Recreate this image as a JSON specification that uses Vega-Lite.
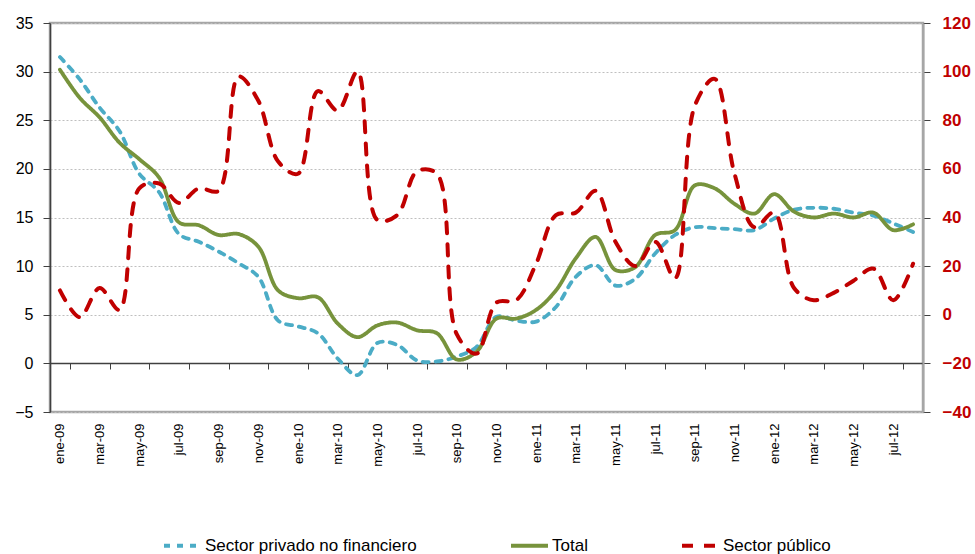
{
  "$schema": "https://vega.github.io/schema/vega-lite/v6.json",
  "width": 873,
  "height": 389,
  "autosize": {"type": "none"},
  "padding": {"left": 50, "top": 23, "right": 52, "bottom": 142},
  "background": "white",
  "config": {
    "view": {"stroke": "#A6A6A6", "strokeWidth": 2.5},
    "font": "Liberation Sans"
  },
  "data": {
    "values": [
      {"mes":"ene-09","serie":"Sector privado no financiero","valor":31.5},{"mes":"ene-09","serie":"Total","valor":30.2},{"mes":"ene-09","serie":"Sector público","valor":10},
      {"mes":"feb-09","serie":"Sector privado no financiero","valor":29.2},{"mes":"feb-09","serie":"Total","valor":27.3},{"mes":"feb-09","serie":"Sector público","valor":-1},
      {"mes":"mar-09","serie":"Sector privado no financiero","valor":26.3},{"mes":"mar-09","serie":"Total","valor":25.3},{"mes":"mar-09","serie":"Sector público","valor":11},
      {"mes":"abr-09","serie":"Sector privado no financiero","valor":23.9},{"mes":"abr-09","serie":"Total","valor":22.7},{"mes":"abr-09","serie":"Sector público","valor":2},
      {"mes":"may-09","serie":"Sector privado no financiero","valor":19.5},{"mes":"may-09","serie":"Total","valor":21.0},{"mes":"may-09","serie":"Sector público","valor":52},
      {"mes":"jun-09","serie":"Sector privado no financiero","valor":17.6},{"mes":"jun-09","serie":"Total","valor":19.1},{"mes":"jun-09","serie":"Sector público","valor":54},
      {"mes":"jul-09","serie":"Sector privado no financiero","valor":13.3},{"mes":"jul-09","serie":"Total","valor":14.5},{"mes":"jul-09","serie":"Sector público","valor":46},
      {"mes":"ago-09","serie":"Sector privado no financiero","valor":12.5},{"mes":"ago-09","serie":"Total","valor":14.2},{"mes":"ago-09","serie":"Sector público","valor":52},
      {"mes":"sep-09","serie":"Sector privado no financiero","valor":11.5},{"mes":"sep-09","serie":"Total","valor":13.2},{"mes":"sep-09","serie":"Sector público","valor":51},
      {"mes":"oct-09","serie":"Sector privado no financiero","valor":10.3},{"mes":"oct-09","serie":"Total","valor":13.3},{"mes":"oct-09","serie":"Sector público","valor":98},
      {"mes":"nov-09","serie":"Sector privado no financiero","valor":8.9},{"mes":"nov-09","serie":"Total","valor":12.0},{"mes":"nov-09","serie":"Sector público","valor":88},
      {"mes":"dic-09","serie":"Sector privado no financiero","valor":4.4},{"mes":"dic-09","serie":"Total","valor":7.5},{"mes":"dic-09","serie":"Sector público","valor":63},
      {"mes":"ene-10","serie":"Sector privado no financiero","valor":3.8},{"mes":"ene-10","serie":"Total","valor":6.7},{"mes":"ene-10","serie":"Sector público","valor":58},
      {"mes":"feb-10","serie":"Sector privado no financiero","valor":3.1},{"mes":"feb-10","serie":"Total","valor":6.8},{"mes":"feb-10","serie":"Sector público","valor":92},
      {"mes":"mar-10","serie":"Sector privado no financiero","valor":0.5},{"mes":"mar-10","serie":"Total","valor":4.1},{"mes":"mar-10","serie":"Sector público","valor":84},
      {"mes":"abr-10","serie":"Sector privado no financiero","valor":-1.2},{"mes":"abr-10","serie":"Total","valor":2.7},{"mes":"abr-10","serie":"Sector público","valor":100},
      {"mes":"may-10","serie":"Sector privado no financiero","valor":2.1},{"mes":"may-10","serie":"Total","valor":3.9},{"mes":"may-10","serie":"Sector público","valor":39},
      {"mes":"jun-10","serie":"Sector privado no financiero","valor":1.9},{"mes":"jun-10","serie":"Total","valor":4.2},{"mes":"jun-10","serie":"Sector público","valor":41},
      {"mes":"jul-10","serie":"Sector privado no financiero","valor":0.3},{"mes":"jul-10","serie":"Total","valor":3.4},{"mes":"jul-10","serie":"Sector público","valor":59},
      {"mes":"ago-10","serie":"Sector privado no financiero","valor":0.2},{"mes":"ago-10","serie":"Total","valor":3.1},{"mes":"ago-10","serie":"Sector público","valor":58},
      {"mes":"sep-10","serie":"Sector privado no financiero","valor":0.7},{"mes":"sep-10","serie":"Total","valor":0.4},{"mes":"sep-10","serie":"Sector público","valor":-8},
      {"mes":"oct-10","serie":"Sector privado no financiero","valor":1.7},{"mes":"oct-10","serie":"Total","valor":1.2},{"mes":"oct-10","serie":"Sector público","valor":-16},
      {"mes":"nov-10","serie":"Sector privado no financiero","valor":4.8},{"mes":"nov-10","serie":"Total","valor":4.6},{"mes":"nov-10","serie":"Sector público","valor":5},
      {"mes":"dic-10","serie":"Sector privado no financiero","valor":4.4},{"mes":"dic-10","serie":"Total","valor":4.6},{"mes":"dic-10","serie":"Sector público","valor":6},
      {"mes":"ene-11","serie":"Sector privado no financiero","valor":4.3},{"mes":"ene-11","serie":"Total","valor":5.5},{"mes":"ene-11","serie":"Sector público","valor":21},
      {"mes":"feb-11","serie":"Sector privado no financiero","valor":5.8},{"mes":"feb-11","serie":"Total","valor":7.5},{"mes":"feb-11","serie":"Sector público","valor":41},
      {"mes":"mar-11","serie":"Sector privado no financiero","valor":8.9},{"mes":"mar-11","serie":"Total","valor":10.8},{"mes":"mar-11","serie":"Sector público","valor":42},
      {"mes":"abr-11","serie":"Sector privado no financiero","valor":10.1},{"mes":"abr-11","serie":"Total","valor":13.0},{"mes":"abr-11","serie":"Sector público","valor":51},
      {"mes":"may-11","serie":"Sector privado no financiero","valor":8.0},{"mes":"may-11","serie":"Total","valor":9.6},{"mes":"may-11","serie":"Sector público","valor":30},
      {"mes":"jun-11","serie":"Sector privado no financiero","valor":8.7},{"mes":"jun-11","serie":"Total","valor":9.9},{"mes":"jun-11","serie":"Sector público","valor":20},
      {"mes":"jul-11","serie":"Sector privado no financiero","valor":11.3},{"mes":"jul-11","serie":"Total","valor":13.2},{"mes":"jul-11","serie":"Sector público","valor":30},
      {"mes":"ago-11","serie":"Sector privado no financiero","valor":13.2},{"mes":"ago-11","serie":"Total","valor":13.7},{"mes":"ago-11","serie":"Sector público","valor":15},
      {"mes":"sep-11","serie":"Sector privado no financiero","valor":14.0},{"mes":"sep-11","serie":"Total","valor":18.3},{"mes":"sep-11","serie":"Sector público","valor":86},
      {"mes":"oct-11","serie":"Sector privado no financiero","valor":13.9},{"mes":"oct-11","serie":"Total","valor":18.0},{"mes":"oct-11","serie":"Sector público","valor":97},
      {"mes":"nov-11","serie":"Sector privado no financiero","valor":13.8},{"mes":"nov-11","serie":"Total","valor":16.4},{"mes":"nov-11","serie":"Sector público","valor":58},
      {"mes":"dic-11","serie":"Sector privado no financiero","valor":13.7},{"mes":"dic-11","serie":"Total","valor":15.4},{"mes":"dic-11","serie":"Sector público","valor":36},
      {"mes":"ene-12","serie":"Sector privado no financiero","valor":14.9},{"mes":"ene-12","serie":"Total","valor":17.4},{"mes":"ene-12","serie":"Sector público","valor":42},
      {"mes":"feb-12","serie":"Sector privado no financiero","valor":15.8},{"mes":"feb-12","serie":"Total","valor":15.6},{"mes":"feb-12","serie":"Sector público","valor":11},
      {"mes":"mar-12","serie":"Sector privado no financiero","valor":16.0},{"mes":"mar-12","serie":"Total","valor":15.0},{"mes":"mar-12","serie":"Sector público","valor":6},
      {"mes":"abr-12","serie":"Sector privado no financiero","valor":15.9},{"mes":"abr-12","serie":"Total","valor":15.4},{"mes":"abr-12","serie":"Sector público","valor":9},
      {"mes":"may-12","serie":"Sector privado no financiero","valor":15.5},{"mes":"may-12","serie":"Total","valor":15.0},{"mes":"may-12","serie":"Sector público","valor":14},
      {"mes":"jun-12","serie":"Sector privado no financiero","valor":15.2},{"mes":"jun-12","serie":"Total","valor":15.5},{"mes":"jun-12","serie":"Sector público","valor":19},
      {"mes":"jul-12","serie":"Sector privado no financiero","valor":14.4},{"mes":"jul-12","serie":"Total","valor":13.7},{"mes":"jul-12","serie":"Sector público","valor":6},
      {"mes":"ago-12","serie":"Sector privado no financiero","valor":13.5},{"mes":"ago-12","serie":"Total","valor":14.3},{"mes":"ago-12","serie":"Sector público","valor":21}
    ]
  },
  "encoding": {
    "x": {
      "field": "mes",
      "type": "ordinal",
      "sort": null,
      "scale": {"type": "band", "paddingInner": 0, "paddingOuter": 0},
      "axis": {
        "title": null,
        "offset": -49,
        "domainColor": "#404040",
        "domainWidth": 1.5,
        "tickColor": "#404040",
        "tickSize": 6,
        "tickBand": "extent",
        "labelAngle": -90,
        "labelPadding": 54,
        "labelFontSize": 13,
        "labelColor": "#000000",
        "values": ["ene-09","mar-09","may-09","jul-09","sep-09","nov-09","ene-10","mar-10","may-10","jul-10","sep-10","nov-10","ene-11","mar-11","may-11","jul-11","sep-11","nov-11","ene-12","mar-12","may-12","jul-12"]
      }
    },
    "color": {
      "field": "serie",
      "type": "nominal",
      "scale": {
        "domain": ["Sector privado no financiero", "Total", "Sector público"],
        "range": ["#4BACC6", "#77933C", "#C00000"]
      },
      "legend": {
        "orient": "none",
        "legendX": 112,
        "legendY": 502,
        "direction": "horizontal",
        "symbolType": "stroke",
        "symbolSize": 1369,
        "symbolStrokeWidth": 4,
        "labelFontSize": 17,
        "labelLimit": 400,
        "labelColor": "#000000",
        "labelOffset": 2,
        "columnPadding": 86,
        "padding": 0,
        "title": null
      }
    },
    "strokeDash": {
      "field": "serie",
      "type": "nominal",
      "scale": {
        "domain": ["Sector privado no financiero", "Total", "Sector público"],
        "range": [[6, 7], [1, 0], [11, 11]]
      },
      "legend": {
        "orient": "none",
        "legendX": 112,
        "legendY": 502,
        "direction": "horizontal",
        "symbolType": "stroke",
        "symbolSize": 1369,
        "symbolStrokeWidth": 4,
        "labelFontSize": 17,
        "labelLimit": 400,
        "labelColor": "#000000",
        "labelOffset": 2,
        "columnPadding": 86,
        "padding": 0,
        "title": null
      }
    }
  },
  "layer": [
    {
      "transform": [{"filter": "datum.serie != 'Sector público'"}],
      "mark": {"type": "line", "interpolate": "catmull-rom", "strokeWidth": 3.8, "strokeCap": "round"},
      "encoding": {
        "y": {
          "field": "valor",
          "type": "quantitative",
          "scale": {"domain": [-5, 35], "nice": false, "zero": false},
          "axis": {
            "title": null,
            "values": [-5, 0, 5, 10, 15, 20, 25, 30, 35],
            "grid": true,
            "gridColor": "#BFBFBF",
            "gridDash": [2, 2],
            "domainColor": "#404040",
            "domainWidth": 1.5,
            "tickColor": "#404040",
            "tickSize": 7,
            "labelPadding": 10,
            "labelFontSize": 16,
            "labelColor": "#000000"
          }
        }
      }
    },
    {
      "transform": [{"filter": "datum.serie == 'Sector público'"}],
      "mark": {"type": "line", "interpolate": "catmull-rom", "strokeWidth": 4, "strokeCap": "round"},
      "encoding": {
        "y": {
          "field": "valor",
          "type": "quantitative",
          "scale": {"domain": [-40, 120], "nice": false, "zero": false},
          "axis": {
            "orient": "right",
            "title": null,
            "values": [-40, -20, 0, 20, 40, 60, 80, 100, 120],
            "grid": false,
            "domainColor": "#A6A6A6",
            "domainWidth": 2,
            "tickColor": "#404040",
            "tickSize": 7,
            "labelPadding": 12,
            "labelFontSize": 17,
            "labelFontWeight": "bold",
            "labelColor": "#C00000"
          }
        }
      }
    }
  ],
  "resolve": {"scale": {"y": "independent"}}
}
